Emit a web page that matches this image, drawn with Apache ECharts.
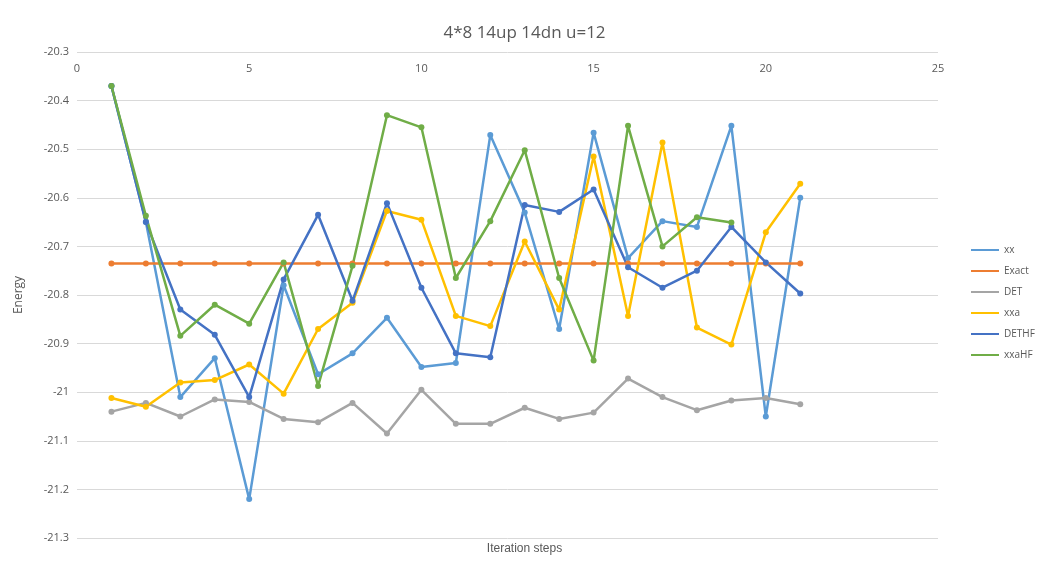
<!DOCTYPE html>
<html><head><meta charset="utf-8">
<script src="https://cdn.jsdelivr.net/npm/echarts@6/dist/echarts.min.js"></script>
<style>html,body{margin:0;padding:0;background:#fff}#c{width:1049px;height:575px}</style>
</head><body><div id="c"></div>
<script>
const steps = [1,2,3,4,5,6,7,8,9,10,11,12,13,14,15,16,17,18,19,20,21];
const xx = [-20.37,-20.65,-21.01,-20.93,-21.22,-20.78,-20.963,-20.92,-20.847,-20.948,-20.94,-20.471,-20.63,-20.87,-20.466,-20.724,-20.648,-20.66,-20.452,-21.05,-20.60];
const exact = Array(21).fill(-20.735);
const det = [-21.04,-21.022,-21.05,-21.015,-21.02,-21.055,-21.062,-21.022,-21.085,-20.995,-21.065,-21.065,-21.032,-21.055,-21.042,-20.972,-21.01,-21.037,-21.017,-21.012,-21.025];
const xxa = [-21.012,-21.03,-20.98,-20.975,-20.943,-21.003,-20.87,-20.816,-20.627,-20.645,-20.843,-20.864,-20.69,-20.83,-20.515,-20.843,-20.486,-20.867,-20.902,-20.671,-20.571];
const dethf = [-20.37,-20.65,-20.83,-20.882,-21.01,-20.768,-20.635,-20.812,-20.611,-20.785,-20.92,-20.928,-20.615,-20.629,-20.583,-20.743,-20.785,-20.75,-20.66,-20.733,-20.797];
const xxahf = [-20.37,-20.637,-20.884,-20.82,-20.859,-20.733,-20.987,-20.74,-20.43,-20.455,-20.765,-20.648,-20.502,-20.765,-20.935,-20.452,-20.7,-20.64,-20.651];
const names = ['xx','Exact','DET','xxa','DETHF','xxaHF'];
const colors = ['#5B9BD5','#ED7D31','#A5A5A5','#FFC000','#4472C4','#70AD47'];
const vals = [xx,exact,det,xxa,dethf,xxahf];
const chart = echarts.init(document.getElementById('c'));
chart.setOption({
  animation:false,
  textStyle:{fontFamily:'Open Sans, Noto Sans, sans-serif'},
  title:{text:'4*8 14up 14dn u=12',left:'center',top:20,textStyle:{fontSize:17,fontWeight:'normal',color:'#595959'}},
  graphic:[{type:'text',left:'center',top:543,style:{text:'Iteration steps',fontSize:12,fill:'#595959'}}],
  grid:{left:77,right:111,top:52,bottom:37},
  legend:{orient:'vertical',left:966,top:240,itemGap:11,itemWidth:28,itemHeight:8,icon:'path://M0,4 L28,4 L28,6 L0,6 Z',data:names,textStyle:{fontSize:10,color:'#595959'}},
  xAxis:{type:'value',position:'top',min:0,max:25,interval:5,splitLine:{show:false},axisLine:{show:false},axisTick:{show:false},axisLabel:{inside:true,margin:11,color:'#595959',fontSize:11}},
  yAxis:{type:'value',min:-21.3,max:-20.3,interval:0.1,name:'Energy',nameLocation:'middle',nameGap:52,nameTextStyle:{color:'#595959',fontSize:12},axisLine:{show:false},axisTick:{show:false},axisLabel:{color:'#595959',fontSize:11,formatter:v=>String(Math.round(v*10)/10)},splitLine:{lineStyle:{color:'#D9D9D9'}}},
  series:names.map((n,i)=>({name:n,type:'line',data:vals[i].map((v,j)=>[steps[j],v]),symbol:'circle',symbolSize:6,itemStyle:{color:colors[i]},lineStyle:{width:2.5,color:colors[i]}}))
});
</script></body></html>
